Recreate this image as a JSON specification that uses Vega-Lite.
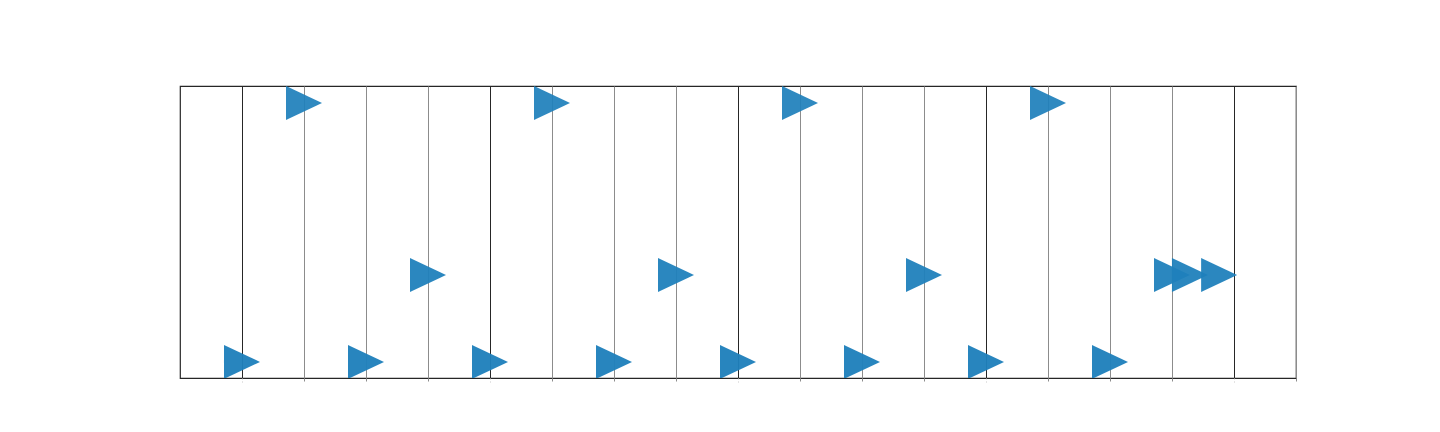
{
  "$schema": "https://vega.github.io/schema/vega-lite/v6.json",
  "width": 1116,
  "height": 292,
  "autosize": {"type": "none"},
  "padding": {"left": 180, "top": 86, "right": 144, "bottom": 54},
  "background": "white",
  "config": {"view": {"stroke": "#262626", "strokeWidth": 1.2}},
  "data": {"values": [
    {"t": 1, "lane": 0.055, "row": "bottom"},
    {"t": 3, "lane": 0.055, "row": "bottom"},
    {"t": 5, "lane": 0.055, "row": "bottom"},
    {"t": 7, "lane": 0.055, "row": "bottom"},
    {"t": 9, "lane": 0.055, "row": "bottom"},
    {"t": 11, "lane": 0.055, "row": "bottom"},
    {"t": 13, "lane": 0.055, "row": "bottom"},
    {"t": 15, "lane": 0.055, "row": "bottom"},
    {"t": 4, "lane": 0.353, "row": "middle"},
    {"t": 8, "lane": 0.353, "row": "middle"},
    {"t": 12, "lane": 0.353, "row": "middle"},
    {"t": 16, "lane": 0.353, "row": "middle"},
    {"t": 16.29, "lane": 0.353, "row": "middle"},
    {"t": 16.76, "lane": 0.353, "row": "middle"},
    {"t": 2, "lane": 0.942, "row": "top"},
    {"t": 6, "lane": 0.942, "row": "top"},
    {"t": 10, "lane": 0.942, "row": "top"},
    {"t": 14, "lane": 0.942, "row": "top"}
  ]},
  "mark": {"type": "point", "shape": "M1.03,0L-1.03,-0.97L-1.03,0.97Z", "filled": true, "size": 1225, "strokeWidth": 0, "clip": true, "color": "#1f80bb"},
  "encoding": {
    "x": {
      "field": "t", "type": "quantitative",
      "scale": {"domain": [0, 18], "nice": false, "zero": false},
      "axis": {
        "title": null, "labels": false, "domain": false,
        "values": [1,2,3,4,5,6,7,8,9,10,11,12,13,14,15,16,17,18],
        "grid": true,
        "gridColor": {"condition": {"test": "datum.value % 4 == 1", "value": "#262626"}, "value": "#8c8c8c"},
        "gridWidth": 1,
        "gridOpacity": 1,
        "ticks": true,
        "tickColor": {"condition": {"test": "datum.value % 4 == 1", "value": "#c8c8c8"}, "value": "#8c8c8c"},
        "tickSize": {"condition": {"test": "datum.value % 4 == 1", "value": 6}, "value": 3},
        "tickDash": {"condition": {"test": "datum.value % 4 == 1", "value": [1, 2]}, "value": []},
        "tickWidth": 1
      }
    },
    "y": {
      "field": "lane", "type": "quantitative",
      "scale": {"domain": [0, 1], "nice": false, "zero": false},
      "axis": null
    },
    "opacity": {
      "field": "row", "type": "nominal",
      "scale": {"domain": ["bottom", "middle", "top"], "range": [0.96, 0.93, 0.8]},
      "legend": null
    }
  }
}
